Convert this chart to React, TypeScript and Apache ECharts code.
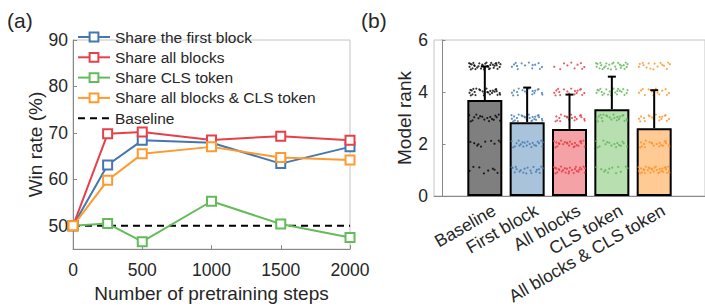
import React, { useEffect, useRef } from "react";
import * as echarts from "echarts";

// ---- Panel (a) data ----
const steps = [0, 250, 500, 1000, 1500, 2000];
const shareFirstBlock = [50, 63.1, 68.4, 67.9, 63.4, 67.0];
const shareAllBlocks = [50, 69.8, 70.2, 68.5, 69.3, 68.4];
const shareCLS = [50, 50.5, 46.6, 55.3, 50.4, 47.5];
const shareAllCLS = [50, 59.8, 65.5, 67.0, 64.7, 64.2];
const baselineSteps = [0, 2000];
const baselineWin = [50, 50];
const winTicks = [50, 60, 70, 80, 90];
const stepTicks = [0, 500, 1000, 1500, 2000];

// ---- Panel (b) data ----
const rankCategories = ["Baseline", "First block", "All blocks", "CLS token", "All blocks & CLS token"];
const rankMeans = [3.69, 2.84, 2.58, 3.34, 2.61];
const rankErrTop = [4.98, 4.17, 3.9, 4.59, 4.07];
const rankTicks = [0, 2, 4, 6];
// number of samples at rank 1..5 per category
const rankCounts = [
  [8, 10, 18, 28, 36],
  [20, 22, 26, 18, 14],
  [28, 24, 20, 18, 10],
  [12, 16, 22, 24, 26],
  [32, 20, 18, 14, 16],
];
// hand-typed visual jitter offsets [dx, dy]
const jitter = [
  [-0.31, 0.06], [0.12, -0.09], [0.27, 0.11], [-0.05, 0.02], [0.35, -0.04], [-0.22, -0.12], [0.04, 0.13], [-0.36, -0.03], [0.19, 0.05], [-0.13, 0.1],
  [0.3, -0.11], [-0.27, 0.12], [0.08, -0.02], [-0.02, -0.13], [0.23, 0.01], [-0.34, 0.08], [0.15, 0.12], [-0.18, -0.06], [0.37, 0.07], [-0.09, -0.1],
  [0.01, 0.09], [-0.25, 0.03], [0.33, 0.13], [-0.15, -0.01], [0.1, -0.12], [-0.37, 0.11], [0.21, -0.07], [-0.06, 0.05], [0.28, 0.03], [-0.29, -0.09],
  [0.06, 0.0], [-0.2, 0.13], [0.36, -0.1], [-0.11, 0.07], [0.17, -0.04], [-0.33, -0.13], [0.25, 0.09], [-0.01, -0.06], [0.13, 0.04], [-0.24, 0.0],
];

const FONT = "Liberation Sans, Arial, sans-serif";
const TXT = "#262626";
const lineColors = ["#4277b0", "#e8404a", "#64bb5c", "#ff9a2e"];
const barColors = ["#7f7f7f", "#a9c3da", "#f4a2a5", "#b8dfb0", "#ffca94"];
const dotColors = ["#000000", "#3f78b2", "#e8343f", "#5ab552", "#ff9020"];

export default function App() {
  const ref = useRef<HTMLDivElement>(null);
  useEffect(() => {
    if (!ref.current) return;
    const chart = echarts.init(ref.current, undefined, { renderer: "svg" });

    const lineSeries = [
      ["Share the first block", shareFirstBlock, lineColors[0]],
      ["Share all blocks", shareAllBlocks, lineColors[1]],
      ["Share CLS token", shareCLS, lineColors[2]],
      ["Share all blocks & CLS token", shareAllCLS, lineColors[3]],
    ].map(([name, vals, color]: any) => ({
      type: "line",
      name,
      xAxisIndex: 0,
      yAxisIndex: 0,
      data: steps.map((s, i) => [s, vals[i]]),
      symbol: "emptyRect",
      symbolSize: 9,
      showAllSymbol: true,
      color,
      lineStyle: { width: 2, color },
      itemStyle: { color, borderColor: color, borderWidth: 1.6 },
      z: 3,
    }));

    const baseline = {
      type: "line",
      name: "Baseline",
      xAxisIndex: 0,
      yAxisIndex: 0,
      data: baselineSteps.map((s, i) => [s, baselineWin[i]]),
      symbol: "none",
      color: "#000",
      lineStyle: { width: 2, color: "#000", type: [7, 5] },
      z: 2,
    };

    const scatterSeries = rankCounts.map((counts, c) => {
      const pts: number[][] = [];
      counts.forEach((n, r) => {
        for (let k = 0; k < n; k++) {
          const j = jitter[(k + (r + 1) * 7 + c * 3) % jitter.length];
          pts.push([c + 1 + j[0], r + 1 + j[1]]);
        }
      });
      return {
        type: "scatter",
        xAxisIndex: 1,
        yAxisIndex: 1,
        data: pts,
        symbol: "circle",
        symbolSize: 2.2,
        itemStyle: { color: dotColors[c] },
        silent: true,
        z: 4,
      };
    });

    const tickFont = { fontFamily: FONT, fontSize: 17.5, color: TXT };

    const option: any = {
      animation: false,
      textStyle: { fontFamily: FONT },
      graphic: [
        { type: "text", left: 7, top: 10, style: { text: "(a)", font: `21px ${FONT}`, fill: TXT } },
        { type: "text", left: 361, top: 10, style: { text: "(b)", font: `21px ${FONT}`, fill: TXT } },
      ],
      legend: {
        data: [
          "Share the first block",
          "Share all blocks",
          "Share CLS token",
          "Share all blocks & CLS token",
          { name: "Baseline", itemStyle: { color: "transparent", borderColor: "transparent", borderWidth: 0, opacity: 0 } },
        ],
        orient: "vertical",
        left: 77,
        top: 29,
        itemWidth: 32,
        itemHeight: 11,
        itemGap: 4.3,
        padding: 0,
        textStyle: { fontFamily: FONT, fontSize: 15.5, color: TXT, lineHeight: 16 },
      },
      grid: [
        { left: 73, top: 40, width: 277, height: 216, show: true, borderColor: "#c4c4c4", borderWidth: 1 },
        { left: 434, top: 40, width: 283, height: 156, show: true, borderColor: "#c4c4c4", borderWidth: 1 },
      ],
      xAxis: [
        {
          gridIndex: 0,
          type: "value",
          min: 0,
          max: 2000,
          name: "Number of pretraining steps",
          nameLocation: "middle",
          nameGap: 33,
          nameTextStyle: { fontFamily: FONT, fontSize: 19, color: TXT },
          axisLine: { show: true, lineStyle: { color: "#888", width: 1 } },
          axisTick: { show: true, inside: true, length: 4, customValues: stepTicks, lineStyle: { color: "#888" } },
          axisLabel: { customValues: stepTicks, formatter: (v: number) => String(v), ...tickFont, margin: 12 },
          splitLine: { show: false },
        },
        {
          gridIndex: 1,
          type: "value",
          min: -0.2,
          max: 6.2,
          axisLine: { show: true, lineStyle: { color: "#888", width: 1 } },
          axisTick: { show: false },
          axisLabel: {
            customValues: [1.22, 2.22, 3.22, 4.22, 5.22],
            formatter: (v: number) => rankCategories[Math.round(v) - 1] ?? "",
            rotate: 30,
            fontFamily: FONT,
            fontSize: 17.5,
            color: TXT,
            margin: 13,
          },
          splitLine: { show: false },
        },
      ],
      yAxis: [
        {
          gridIndex: 0,
          type: "value",
          min: 45,
          max: 90,
          name: "Win rate (%)",
          nameLocation: "middle",
          nameGap: 28,
          nameTextStyle: { fontFamily: FONT, fontSize: 19, color: TXT },
          axisLine: { show: true, lineStyle: { color: "#888", width: 1 } },
          axisTick: { show: true, inside: true, length: 4, customValues: winTicks, lineStyle: { color: "#888" } },
          axisLabel: { customValues: winTicks, ...tickFont, margin: 5 },
          splitLine: { show: false },
        },
        {
          gridIndex: 1,
          type: "value",
          min: 0,
          max: 6,
          interval: 2,
          name: "Model rank",
          nameLocation: "middle",
          nameGap: 20,
          nameTextStyle: { fontFamily: FONT, fontSize: 19, color: TXT },
          axisLine: { show: true, lineStyle: { color: "#888", width: 1 } },
          axisTick: { show: true, inside: true, length: 3, customValues: rankTicks, lineStyle: { color: "#888" } },
          axisLabel: { customValues: rankTicks, ...tickFont, margin: 6 },
          splitLine: { show: false },
        },
      ],
      series: [
        ...lineSeries,
        baseline,
        {
          type: "bar",
          xAxisIndex: 1,
          yAxisIndex: 1,
          barWidth: 35,
          data: rankMeans.map((m, i) => ({ value: [i + 1, m], itemStyle: { color: barColors[i] } })),
          itemStyle: { borderColor: "#000", borderWidth: 2 },
          z: 2,
        },
        ...scatterSeries,
        {
          type: "custom",
          xAxisIndex: 1,
          yAxisIndex: 1,
          data: rankErrTop.map((t, i) => [i + 1, rankMeans[i], t]),
          encode: { x: 0, y: [1, 2] },
          z: 5,
          silent: true,
          renderItem: (params: any, api: any) => {
            const x = api.value(0);
            const p0 = api.coord([x, api.value(1)]);
            const p1 = api.coord([x, api.value(2)]);
            return {
              type: "group",
              children: [
                { type: "line", shape: { x1: p0[0], y1: p0[1], x2: p1[0], y2: p1[1] }, style: { stroke: "#000", lineWidth: 2 } },
                { type: "line", shape: { x1: p1[0] - 4, y1: p1[1], x2: p1[0] + 4, y2: p1[1] }, style: { stroke: "#000", lineWidth: 2 } },
              ],
            };
          },
        },
      ],
    };
    chart.setOption(option);
    return () => chart.dispose();
  }, []);
  return <div ref={ref} style={{ width: 705, height: 308, position: "absolute", left: 0, top: 0 }} />;
}
